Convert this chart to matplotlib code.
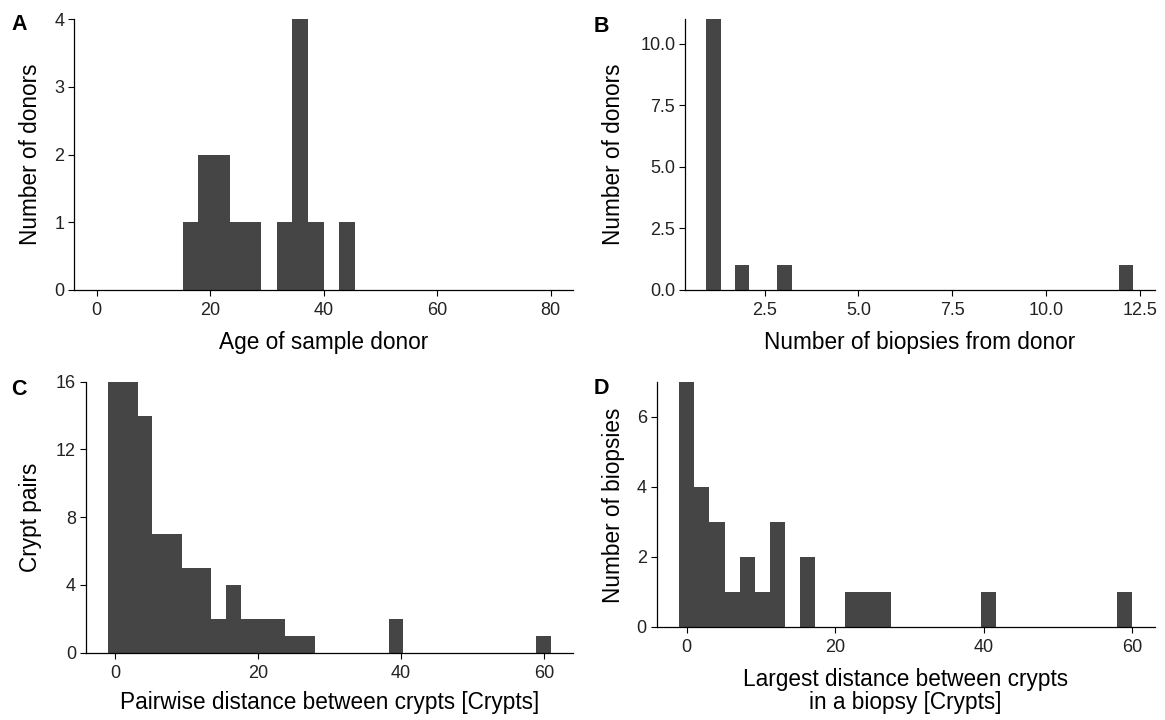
import matplotlib
matplotlib.use("Agg")
import matplotlib.pyplot as plt

plt.rcParams['font.family'] = ['Liberation Sans', 'DejaVu Sans']

# ---- data (bin centres and counts) ----
age_centres = [16.55, 19.31, 22.07, 24.83, 27.59, 33.10, 35.86, 38.62, 44.14]
age_counts = [1, 2, 2, 1, 1, 1, 4, 1, 1]
age_width = 2.76

biopsy_centres = [1.14, 1.90, 3.03, 12.14]
biopsy_counts = [11, 1, 1, 1]
biopsy_width = 0.379

pair_centres = [0, 2.07, 4.14, 6.21, 8.28, 10.34, 12.41, 14.48, 16.55, 18.62,
                20.69, 22.76, 24.83, 26.90, 39.31, 60.0]
pair_counts = [16, 16, 14, 7, 7, 5, 5, 2, 4, 2, 2, 2, 1, 1, 2, 1]
pair_width = 2.069

largest_centres = [0, 2.03, 4.07, 6.10, 8.14, 10.17, 12.21, 16.28, 22.38,
                   24.41, 26.45, 40.69, 59.0]
largest_counts = [7, 4, 3, 1, 2, 1, 3, 2, 1, 1, 1, 1, 1]
largest_width = 2.034

W, H = 1165, 720
BAR = '#454545'
TICK_FS = 13
LAB_FS = 16.3


def px_axes(fig, left, right, top, bottom):
    return fig.add_axes([left / W, 1 - bottom / H, (right - left) / W, (bottom - top) / H])


def style(ax):
    for s in ['top', 'right']:
        ax.spines[s].set_visible(False)
    for s in ['left', 'bottom']:
        ax.spines[s].set_linewidth(0.9)
    ax.tick_params(direction='out', length=4, width=0.8,
                   labelsize=TICK_FS, labelcolor='#222222')
    ax.tick_params(axis='x', pad=4.8)
    ax.tick_params(axis='y', pad=3)


fig = plt.figure(figsize=(W / 100, H / 100), dpi=100)

# A
axA = px_axes(fig, 74, 573.4, 19, 290)
axA.bar(age_centres, age_counts, width=age_width, color=BAR, linewidth=0)
axA.set_xlim(-4, 84)
axA.set_ylim(0, 4)
axA.set_xticks([0, 20, 40, 60, 80])
axA.set_yticks([0, 1, 2, 3, 4])
style(axA)

# B
axB = px_axes(fig, 685, 1154.6, 19, 290)
axB.bar(biopsy_centres, biopsy_counts, width=biopsy_width, color=BAR, linewidth=0)
axB.set_xlim(0.379, 12.897)
axB.set_ylim(0, 11)
axB.set_xticks([2.5, 5.0, 7.5, 10.0, 12.5])
axB.set_yticks([0, 2.5, 5.0, 7.5, 10.0])
axB.xaxis.set_major_formatter(matplotlib.ticker.FormatStrFormatter('%.1f'))
axB.yaxis.set_major_formatter(matplotlib.ticker.FormatStrFormatter('%.1f'))
style(axB)

# C
axC = px_axes(fig, 85.8, 573.4, 381.7, 652.7)
axC.bar(pair_centres, pair_counts, width=pair_width, color=BAR, linewidth=0)
axC.set_xlim(-4.14, 64.14)
axC.set_ylim(0, 16)
axC.set_xticks([0, 20, 40, 60])
axC.set_yticks([0, 4, 8, 12, 16])
style(axC)

# D
axD = px_axes(fig, 656.5, 1154.6, 381.7, 626.7)
axD.bar(largest_centres, largest_counts, width=largest_width, color=BAR, linewidth=0)
axD.set_xlim(-4.07, 63.0)
axD.set_ylim(0, 7)
axD.set_xticks([0, 20, 40, 60])
axD.set_yticks([0, 2, 4, 6])
style(axD)


def ftext(x, y, s, **kw):
    fig.text(x / W, 1 - y / H, s, **kw)


# axis titles
ftext(323.7, 343, 'Age of sample donor', ha='center', va='center', fontsize=LAB_FS)
ftext(919.8, 343, 'Number of biopsies from donor', ha='center', va='center', fontsize=LAB_FS)
ftext(329.6, 703, 'Pairwise distance between crypts [Crypts]', ha='center', va='center', fontsize=LAB_FS)
ftext(905.5, 691, 'Largest distance between crypts\nin a biopsy [Crypts]', ha='center', va='center',
      fontsize=LAB_FS, linespacing=1.0)
ftext(31, 154.5, 'Number of donors', ha='center', va='center', rotation=90, fontsize=LAB_FS)
ftext(613.5, 154.5, 'Number of donors', ha='center', va='center', rotation=90, fontsize=LAB_FS)
ftext(31, 517, 'Crypt pairs', ha='center', va='center', rotation=90, fontsize=LAB_FS)
ftext(613.5, 505, 'Number of biopsies', ha='center', va='center', rotation=90, fontsize=LAB_FS)

# panel letters
for x, y, s in [(11, 14, 'A'), (594, 16, 'B'), (11, 379, 'C'), (594, 378, 'D')]:
    ftext(x, y, s, ha='left', va='top', fontsize=15.5, fontweight='bold')

fig.savefig('out.png', dpi=100)
